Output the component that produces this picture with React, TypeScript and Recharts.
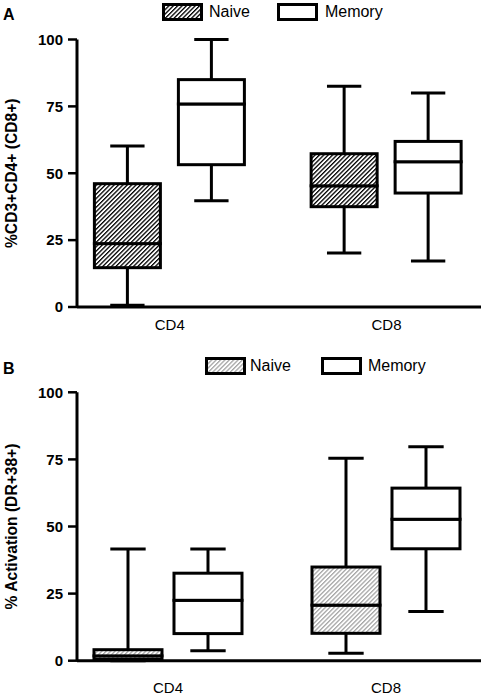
import React from 'react';
import { BarChart, Bar, XAxis, YAxis, Legend, Label } from 'recharts';

const FONT = '"Liberation Sans", Arial, Helvetica, sans-serif';

const categories = ['CD4', 'CD8'];
const yTicks = [0, 25, 50, 75, 100];

// five-number summaries per category: [min, q1, median, q3, max]
const frequencyNaive = [
  [0.7, 14.7, 23.7, 46.1, 60.2],
  [20.2, 37.5, 45.3, 57.3, 82.5],
];
const frequencyMemory = [
  [39.7, 53.2, 75.9, 85.0, 100],
  [17.2, 42.6, 54.3, 61.9, 80.0],
];
const activationNaive = [
  [0, 0.5, 1.8, 4.1, 41.6],
  [2.8, 10.2, 20.7, 34.9, 75.4],
];
const activationMemory = [
  [3.7, 10.1, 22.5, 32.6, 41.6],
  [18.3, 41.7, 52.7, 64.3, 79.7],
];

const groups = ['naive', 'memory'];

// turn the summaries into stacked segments: base, lower whisker, lower box, upper box, upper whisker
function buildRows(naive: number[][], memory: number[][]) {
  return categories.map((name, i) => {
    const row: Record<string, any> = { name, pos: i };
    [naive[i], memory[i]].forEach((s, g) => {
      const [min, q1, med, q3, max] = s;
      const k = groups[g];
      row[`${k}Base`] = min;
      row[`${k}LowW`] = q1 - min;
      row[`${k}LowB`] = med - q1;
      row[`${k}HighB`] = q3 - med;
      row[`${k}HighW`] = max - q3;
    });
    return row;
  });
}

const LINE = 3;

const whisker = (low: boolean) => (props: any) => {
  const { x, y, width, height } = props;
  if (x == null || y == null) return <g />;
  const top = Math.min(y, y + height);
  const bottom = Math.max(y, y + height);
  const cx = x + width / 2;
  const cap = width * 0.26;
  const capY = low ? bottom : top;
  return (
    <g>
      <line x1={cx} x2={cx} y1={top} y2={bottom} stroke="#000" strokeWidth={LINE} />
      <line x1={cx - cap} x2={cx + cap} y1={capY} y2={capY} stroke="#000" strokeWidth={LINE} />
    </g>
  );
};

const box = (fill: string) => (props: any) => {
  const { x, y, width, height } = props;
  if (x == null || y == null) return <g />;
  return (
    <rect
      x={x}
      y={Math.min(y, y + height)}
      width={width}
      height={Math.abs(height)}
      fill={fill}
      stroke="#000"
      strokeWidth={LINE}
    />
  );
};

const Hatch = ({ id, color }: { id: string; color: string }) => (
  <pattern id={id} patternUnits="userSpaceOnUse" width={3.1} height={3.1} patternTransform="rotate(45)">
    <rect width={3.1} height={3.1} fill="#fff" />
    <rect width={1.3} height={3.1} fill={color} />
  </pattern>
);

interface PanelProps {
  letter: string;
  yLabel: string;
  naive: number[][];
  memory: number[][];
  hatchColor: string;
  id: string;
  top: number;
  height: number;
  plotTop: number;
  xAxisHeight: number;
  xDomain: [number, number];
  barSize: number;
  barGap: number;
  xTickMargin: number;
  legendTop: number;
  legendLeft: number;
  legendGaps: number[];
}

const Panel = (p: PanelProps) => {
  const rows = buildRows(p.naive, p.memory);
  const hatchFill = `url(#${p.id})`;
  const fills = [hatchFill, '#fff'];

  const renderLegend = () => (
    <div style={{ display: 'flex', alignItems: 'center', fontFamily: FONT, fontSize: 16, color: '#000', whiteSpace: 'nowrap' }}>
      <svg width={41} height={18} style={{ display: 'block' }}>
        <defs>
          <Hatch id={`${p.id}-legend`} color={p.hatchColor} />
        </defs>
        <rect x={1.5} y={1.5} width={38} height={15} fill={`url(#${p.id}-legend)`} stroke="#000" strokeWidth={3} />
      </svg>
      <span style={{ marginLeft: p.legendGaps[0] }}>Naive</span>
      <svg width={41} height={18} style={{ display: 'block', marginLeft: p.legendGaps[1] }}>
        <rect x={1.5} y={1.5} width={38} height={15} fill="#fff" stroke="#000" strokeWidth={3} />
      </svg>
      <span style={{ marginLeft: p.legendGaps[2] }}>Memory</span>
    </div>
  );

  return (
    <div style={{ position: 'absolute', left: 0, top: p.top, width: 482, height: p.height }}>
      <BarChart
        width={482}
        height={p.height}
        data={rows}
        margin={{ top: p.plotTop, right: 1, bottom: 0, left: 0 }}
        barSize={p.barSize}
        barGap={p.barGap}
      >
        <defs>
          <Hatch id={p.id} color={p.hatchColor} />
        </defs>
        <XAxis
          dataKey="pos"
          type="number"
          domain={p.xDomain}
          ticks={[0, 1]}
          allowDataOverflow
          tickFormatter={(v: number) => categories[v]}
          height={p.xAxisHeight}
          axisLine={{ stroke: '#000', strokeWidth: 3 }}
          tickLine={false}
          tickSize={0}
          tickMargin={p.xTickMargin}
          tick={{ fill: '#000', fontSize: 15, fontFamily: FONT }}
        />
        <YAxis
          domain={[0, 100]}
          ticks={yTicks}
          width={77}
          axisLine={{ stroke: '#000', strokeWidth: 3 }}
          tickLine={{ stroke: '#000', strokeWidth: 2.5 }}
          tickSize={9}
          tickMargin={5}
          tick={{ fill: '#000', fontSize: 15, fontWeight: 'bold', fontFamily: FONT }}
        >
          <Label
            content={(lp: any) => {
              const vb = lp.viewBox || { x: 0, y: 0, width: 0, height: 0 };
              const cx = vb.x + 11;
              const cy = vb.y + vb.height / 2;
              return (
                <text
                  x={cx}
                  y={cy}
                  transform={`rotate(-90 ${cx} ${cy})`}
                  textAnchor="middle"
                  dominantBaseline="central"
                  fontFamily={FONT}
                  fontSize={15.6}
                  fontWeight="bold"
                  fill="#000"
                >
                  {p.yLabel}
                </text>
              );
            }}
          />
        </YAxis>
        <Legend
          layout="horizontal"
          verticalAlign="middle"
          align="center"
          content={renderLegend}
          wrapperStyle={{ top: p.legendTop, left: p.legendLeft, width: 'auto', height: 'auto' }}
        />
        {groups.map((g, gi) => [
          <Bar key={`${g}Base`} dataKey={`${g}Base`} stackId={g} fill="none" isAnimationActive={false} legendType="none" />,
          <Bar key={`${g}LowW`} dataKey={`${g}LowW`} stackId={g} shape={whisker(true)} isAnimationActive={false} legendType="none" />,
          <Bar key={`${g}LowB`} dataKey={`${g}LowB`} stackId={g} shape={box(fills[gi])} isAnimationActive={false} legendType="none" />,
          <Bar key={`${g}HighB`} dataKey={`${g}HighB`} stackId={g} shape={box(fills[gi])} isAnimationActive={false} legendType="none" />,
          <Bar key={`${g}HighW`} dataKey={`${g}HighW`} stackId={g} shape={whisker(false)} isAnimationActive={false} legendType="none" />,
        ])}
      </BarChart>
      <div
        style={{
          position: 'absolute',
          left: 3,
          top: p.legendTop + 4,
          fontFamily: FONT,
          fontSize: 16,
          lineHeight: '16px',
          fontWeight: 'bold',
          color: '#000',
        }}
      >
        {p.letter}
      </div>
    </div>
  );
};

export default function App() {
  return (
    <div style={{ position: 'absolute', left: 0, top: 0, width: 482, height: 698, background: '#fff' }}>
      <Panel
        letter="A"
        yLabel="%CD3+CD4+ (CD8+)"
        naive={frequencyNaive}
        memory={frequencyMemory}
        hatchColor="#000"
        id="hatchA"
        top={0}
        height={335}
        plotTop={39.5}
        xAxisHeight={28}
        xDomain={[-0.428, 1.436]}
        barSize={66}
        barGap={18}
        xTickMargin={12}
        legendTop={2.5}
        legendLeft={162}
        legendGaps={[6, 27, 7]}
      />
      <Panel
        letter="B"
        yLabel="% Activation (DR+38+)"
        naive={activationNaive}
        memory={activationMemory}
        hatchColor="#a6a6a6"
        id="hatchB"
        top={340}
        height={358}
        plotTop={52.3}
        xAxisHeight={37.3}
        xDomain={[-0.4174, 1.4358]}
        barSize={68}
        barGap={12}
        xTickMargin={22}
        legendTop={16.7}
        legendLeft={205}
        legendGaps={[4, 30, 6]}
      />
    </div>
  );
}
